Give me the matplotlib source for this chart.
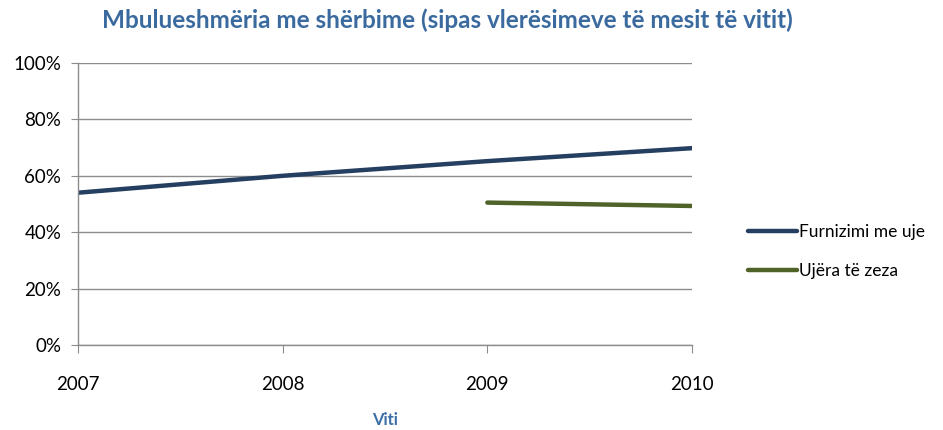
import matplotlib
matplotlib.use('Agg')
import matplotlib.pyplot as plt
from matplotlib.ticker import PercentFormatter

years = [2007, 2008, 2009, 2010]
furnizimi = [54.0, 60.0, 65.2, 69.8]
ujera_years = [2009, 2010]
ujera = [50.5, 49.3]

plt.rcParams['font.family'] = ['Lato', 'DejaVu Sans']

fig = plt.figure(figsize=(9.43, 4.30), dpi=100)
ax = fig.add_axes([78 / 943, 1 - 345 / 430, (692 - 78) / 943, (345 - 63) / 430])

ax.plot(years, furnizimi, color='#243F60', lw=3.2, solid_capstyle='round', label='Furnizimi me uje')
ax.plot(ujera_years, ujera, color='#4F6228', lw=3.2, solid_capstyle='round', label='Ujëra të zeza')

ax.set_xlim(2007, 2010)
ax.set_ylim(0, 100)
ax.set_yticks(range(0, 101, 20))
ax.yaxis.set_major_formatter(PercentFormatter(decimals=0))
ax.set_xticks(years)
ax.set_xticklabels([str(y) for y in years])

ax.grid(axis='y', color='#8C8C8C', lw=1)
ax.set_axisbelow(True)
for s in ['top', 'right']:
    ax.spines[s].set_visible(False)
for s in ['left', 'bottom']:
    ax.spines[s].set_color('#8C8C8C')
    ax.spines[s].set_linewidth(1)

ax.tick_params(axis='y', length=5, color='#8C8C8C', labelsize=13.5, pad=7)
ax.tick_params(axis='x', length=6, color='#8C8C8C', labelsize=13.5, pad=16)

ax.set_xlabel('Viti', fontsize=12, fontweight='bold', color='#3A6EA5', labelpad=14)
fig.text(0.474, 0.953, 'Mbulueshmëria me shërbime (sipas vlerësimeve të mesit të vitit)',
         ha='center', va='center', fontsize=17.5, fontweight='bold', color='#3A6A9E')

fig.legend(loc='center left', bbox_to_anchor=(0.777, 0.415), frameon=False,
           fontsize=12.5, handlelength=2.8, handletextpad=0.1, labelspacing=1.35)

fig.savefig('out.png', dpi=100)
